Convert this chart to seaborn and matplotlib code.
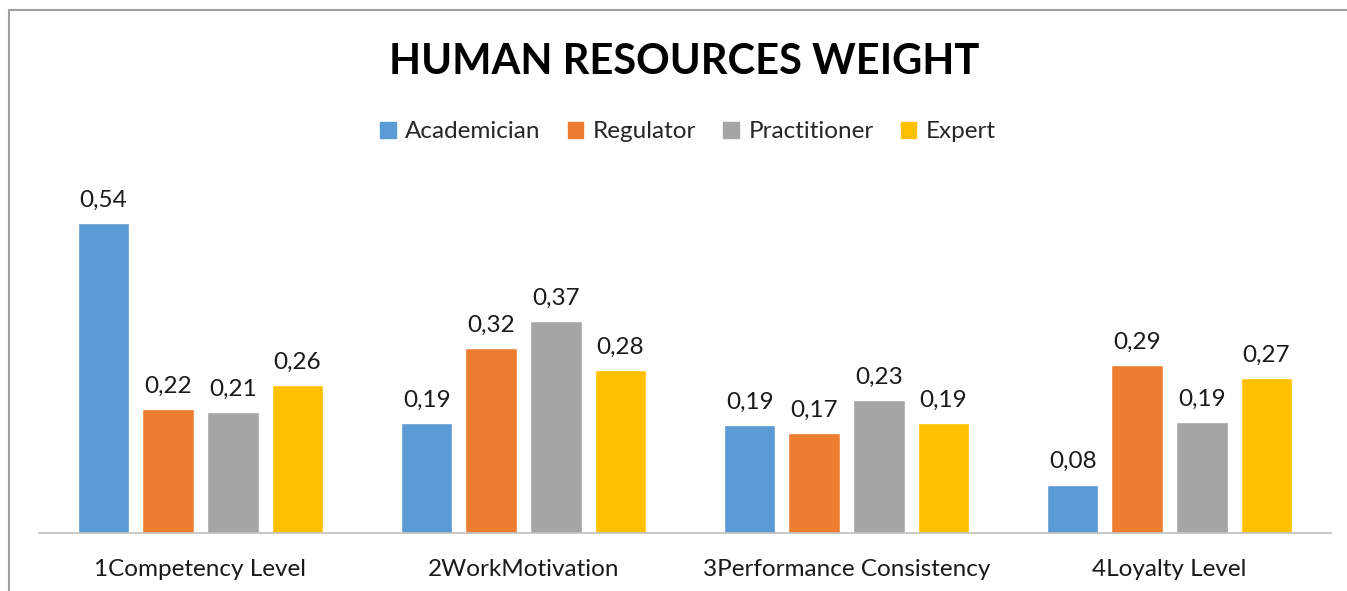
import matplotlib
matplotlib.use("Agg")
import matplotlib.pyplot as plt
import matplotlib.patches as mpatches
import pandas as pd
import seaborn as sns

categories = ["1Competency Level", "2WorkMotivation", "3Performance Consistency", "4Loyalty Level"]
groups = ["Academician", "Regulator", "Practitioner", "Expert"]
academician = [0.54, 0.192, 0.188, 0.084]
regulator = [0.216, 0.322, 0.174, 0.293]
practitioner = [0.211, 0.369, 0.232, 0.193]
expert = [0.258, 0.284, 0.192, 0.270]
colors = ["#5B9BD5", "#ED7D31", "#A5A5A5", "#FFC000"]

rows = []
for g, vals in zip(groups, [academician, regulator, practitioner, expert]):
    for c, v in zip(categories, vals):
        rows.append({"criterion": c, "group": g, "weight": v})
df = pd.DataFrame(rows)

sns.set_theme(style="white")
plt.rcParams["font.family"] = ["Lato", "DejaVu Sans"]

fig = plt.figure(figsize=(13.47, 5.91), dpi=100)
ax = fig.add_axes([39 / 1347, 58 / 591, 1292 / 1347, 344 / 591])

sns.barplot(data=df, x="criterion", y="weight", hue="group", order=categories,
            hue_order=groups, palette=colors, gap=0.2, width=0.8,
            saturation=1, legend=True, ax=ax)

for cont in ax.containers:
    labels = [f"{b.get_height():.2f}".replace(".", ",") for b in cont]
    ax.bar_label(cont, labels=labels, padding=9, fontsize=17.5, color="#1a1a1a")

ax.set_ylim(0, 0.6)
ax.set_xlim(-0.5, 3.5)
ax.set_yticks([])
ax.set_xlabel("")
ax.set_ylabel("")
for side in ["left", "right", "top"]:
    ax.spines[side].set_visible(False)
ax.spines["bottom"].set_color("#BFBFBF")
ax.spines["bottom"].set_linewidth(1.2)
ax.tick_params(axis="x", length=0, labelsize=17.5, pad=19, labelcolor="#1a1a1a")

ax.legend_.remove()
handles = [mpatches.Patch(color=c, label=g) for c, g in zip(colors, groups)]
fig.legend(handles=handles, loc="center", bbox_to_anchor=(688 / 1347, 1 - 132 / 591),
           ncol=4, frameon=False, fontsize=17.5, handlelength=0.65, handleheight=0.65,
           handletextpad=0.4, columnspacing=1.1)

fig.text(684 / 1347, 1 - 62 / 591, "HUMAN RESOURCES WEIGHT", ha="center", va="center",
         fontsize=30, fontweight="bold", color="#000000")

# chart frame
border = mpatches.Rectangle((9 / 1347, -0.05), 1.2, 1 - 10 / 591 + 0.05,
                            transform=fig.transFigure, fill=False,
                            edgecolor="#A0A0A0", linewidth=1.5, clip_on=False)
fig.add_artist(border)

fig.savefig("out.png", dpi=100)
